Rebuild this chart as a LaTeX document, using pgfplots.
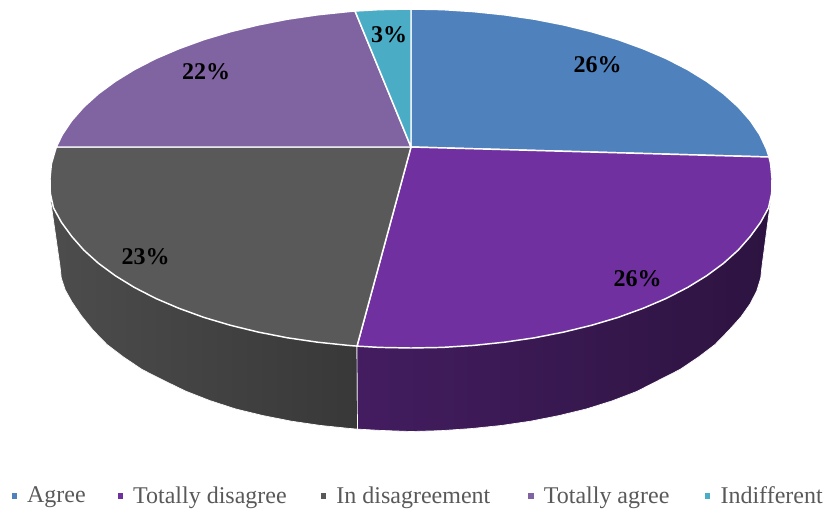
\documentclass[border=0pt]{standalone}
\usepackage{fontspec}
\setmainfont{Liberation Serif}
\usepackage{pgfplots}
\pgfplotsset{compat=1.18}
\definecolor{cAgree}{HTML}{4F81BD}
\definecolor{cTotDis}{HTML}{7030A0}
\definecolor{cDis}{HTML}{595959}
\definecolor{cTotAgr}{HTML}{8064A2}
\definecolor{cInd}{HTML}{4BACC6}
\definecolor{legendtext}{HTML}{595959}
\begin{document}
\begin{tikzpicture}
\useasboundingbox (0,0) rectangle (618pt,381pt);
\begin{axis}[
  scale only axis, width=618pt, height=381pt,
  xmin=0, xmax=824, ymin=0, ymax=508, y dir=reverse,
  hide axis, clip=false,
  legend columns=5,
  legend cell align=left,
  legend style={
    at={(axis cs:10,496)}, anchor=west, draw=none, fill=none,
    font=\fontsize{18pt}{20pt}\selectfont, text=legendtext, inner sep=0pt,
    /tikz/every odd column/.style={column sep=4.5pt},
    /tikz/column 2/.style={column sep=21pt},
    /tikz/column 4/.style={column sep=22.65pt},
    /tikz/column 6/.style={column sep=25.5pt},
    /tikz/column 8/.style={column sep=23.75pt},
  },
  legend image code/.code={
    \fill[#1] (0pt,-2.5pt) rectangle (5pt,2.5pt);
  },
  every axis plot/.append style={line join=round},
]
% Side walls of the disc, shaded from left to right
\addplot[forget plot, draw=white, line width=0.5pt,
  left color=black!70!white, right color=black!78!white] coordinates {
  (50.7,201) (60,266) (61.3,278) (65.3,290) (72,302) (81.2,315.5) (92.9,330)
  (107,344.5) (123.5,357) (142.1,369.5) (162.8,380) (185.4,391) (209.7,400.5)
  (235.5,408.9) (262.7,415.5) (291,421.1) (320.2,425.4) (350.1,428.5) (357.5,429.1)
  (357,346)
} --cycle;
\addplot[forget plot, draw=white, line width=0.5pt,
  left color=cTotDis!60!black, middle color=cTotDis!42!black, right color=cTotDis!40!black] coordinates {
  (357,346) (357.5,429.1) (380.4,430.4) (411,431.5) (441.6,430.6) (471.9,428.5) (501.8,425.4)
  (531,421.1) (559.3,415.5) (586.5,408.9) (612.3,400.8) (636.6,391.5) (659.2,380)
  (679.9,369.5) (698.5,357) (715,344.5) (729.1,330) (740.8,317) (750,304)
  (756.7,291) (760.7,278) (762,266) (770.3,203)
} --cycle;
% Top face: one wedge per answer
\addplot[fill=cAgree, draw=white, line width=1.1pt] coordinates {
  (411,147) (411,9) (442.5,9.6) (473.7,11.6) (504.4,14.8) (534.5,19.2) (563.6,24.9)
  (591.5,31.7) (618.1,39.6) (643.1,48.7) (666.3,58.6) (687.5,69.5) (706.7,81.3)
  (723.6,93.75) (738.2,106.9) (750.2,120.5) (759.7,134.6) (766.5,149.1) (769,157)
} --cycle;
\addlegendentry{Agree}
\addplot[fill=cTotDis, draw=white, line width=1.1pt] coordinates {
  (411,147) (769,157) (770.6,163.7) (772,178.5) (771.7,193.3) (768.5,207.9) (760.5,222.4)
  (750.2,236.5) (738.2,250.1) (723.6,263.25) (706.7,275.7) (687.5,287.5) (666.3,298.4)
  (643.1,308.3) (618.1,317.4) (591.5,325.3) (563.6,332.1) (534.5,337.8) (504.4,342.2)
  (473.7,345.4) (442.5,347.4) (411,348) (379.5,347.4) (357,346.1)
} --cycle;
\addlegendentry{Totally disagree}
\addplot[fill=cDis, draw=white, line width=1.1pt] coordinates {
  (411,147) (357,346.1) (348.3,345.4) (317.6,342.2) (287.5,337.8) (258.4,332.1) (230.5,325.3)
  (203.9,317.4) (178.9,308.3) (155.7,298.4) (134.5,287.5) (115.3,275.7) (98.4,263.25)
  (83.8,250.1) (71.8,236.5) (61.5,222.4) (53.5,207.9) (50.3,193.3) (50,178.5)
  (51.4,163.7) (56.3,147)
} --cycle;
\addlegendentry{In disagreement}
\addplot[fill=cTotAgr, draw=white, line width=1.1pt] coordinates {
  (411,147) (56.3,147) (62.3,134.6) (71.8,120.5) (83.8,106.9) (98.4,93.75) (115.3,81.3)
  (134.5,69.5) (155.7,58.6) (178.9,48.7) (203.9,39.6) (230.5,31.7) (258.4,24.9)
  (287.5,19.2) (317.6,14.8) (348.3,11.6) (355,11)
} --cycle;
\addlegendentry{Totally agree}
\addplot[fill=cInd, draw=white, line width=1.1pt] coordinates {
  (411,147) (355,11) (379.5,9.6) (411,9)
} --cycle;
\addlegendentry{Indifferent}
% Share of each answer
\begin{scope}[every node/.style={font=\fontsize{18pt}{20pt}\selectfont\bfseries, text=black, inner sep=0pt}]
\node at (axis cs:597.5,65) {26\%};
\node at (axis cs:637.5,279) {26\%};
\node at (axis cs:145.5,256.5) {23\%};
\node at (axis cs:206,71.5) {22\%};
\node at (axis cs:389,34.5) {3\%};
\end{scope}
\end{axis}
\end{tikzpicture}
\end{document}
